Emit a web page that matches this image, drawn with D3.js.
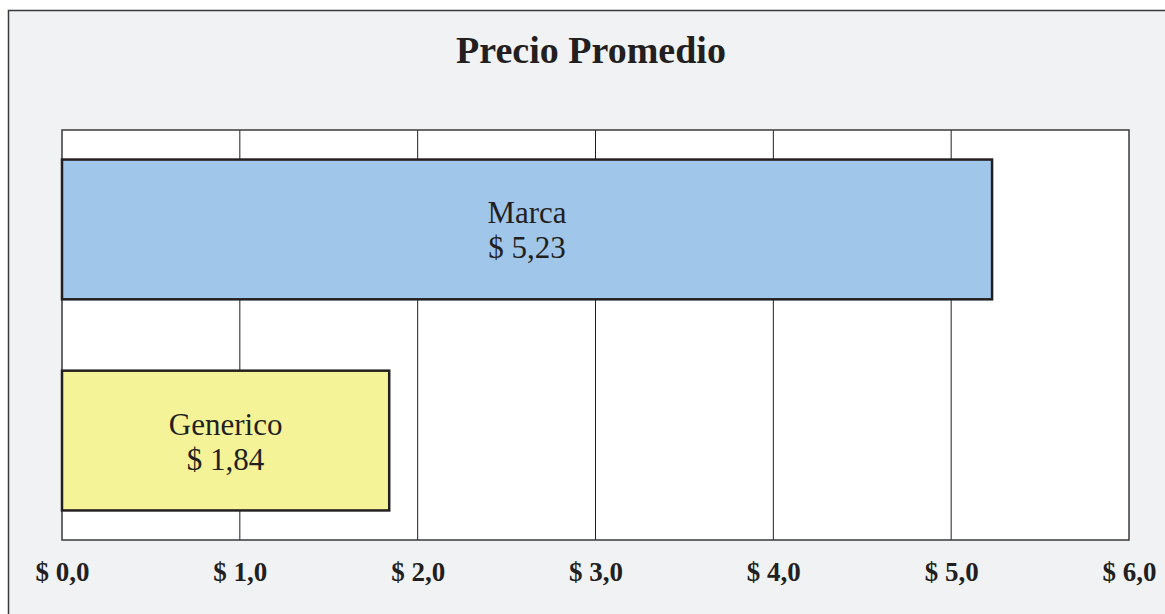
<!DOCTYPE html>
<html lang="es">
<head>
<meta charset="UTF-8">
<title>Precio Promedio</title>
<script src="https://cdn.jsdelivr.net/npm/d3@7"></script>
<style>
  body { margin: 0; background: #fff; }
  svg text { font-family: "Liberation Serif", "Times New Roman", serif; fill: #231f20; }
</style>
</head>
<body>
<svg width="1165" height="614"></svg>
<script>
// datos
const categorias = ["Marca", "Generico"];
const precios = [5.23, 1.84];
const colores = ["#a0c6e9", "#f5f397"];
const ticks = [0, 1, 2, 3, 4, 5, 6];

const width = 1165, height = 614;
const margin = { top: 130, right: 36, bottom: 74, left: 62 };

const svg = d3.select("svg");

// fondo y borde exterior
svg.append("rect")
  .attr("x", 8.5).attr("y", 10.5)
  .attr("width", width + 20).attr("height", height + 20)
  .attr("fill", "#f1f2f4")
  .attr("stroke", "#3a3a3a").attr("stroke-width", 1.5);

svg.append("text")
  .attr("x", 591).attr("y", 63)
  .attr("text-anchor", "middle")
  .attr("font-size", 38).attr("font-weight", "bold")
  .text("Precio Promedio");

const x = d3.scaleLinear()
  .domain([0, 6])
  .range([margin.left, width - margin.right]);

const y = d3.scaleBand()
  .domain(categorias)
  .range([margin.top, height - margin.bottom])
  .paddingInner(0.338)
  .paddingOuter(0.14);

// area del grafico
svg.append("rect")
  .attr("x", x(0)).attr("y", margin.top)
  .attr("width", x(6) - x(0)).attr("height", height - margin.bottom - margin.top)
  .attr("fill", "#fff");

// lineas de cuadricula
svg.append("g")
  .selectAll("line")
  .data(ticks.slice(1, -1))
  .join("line")
  .attr("x1", d => x(d)).attr("x2", d => x(d))
  .attr("y1", margin.top).attr("y2", height - margin.bottom)
  .attr("stroke", "#231f20").attr("stroke-width", 1);

svg.append("rect")
  .attr("x", x(0)).attr("y", margin.top)
  .attr("width", x(6) - x(0)).attr("height", height - margin.bottom - margin.top)
  .attr("fill", "none")
  .attr("stroke", "#3a3a3a").attr("stroke-width", 1.5);

// barras
svg.selectAll(".bar")
  .data(categorias)
  .join("rect")
  .attr("class", "bar")
  .attr("x", x(0))
  .attr("y", d => y(d))
  .attr("width", (d, i) => x(precios[i]) - x(0))
  .attr("height", y.bandwidth())
  .attr("fill", (d, i) => colores[i])
  .attr("stroke", "#231f20").attr("stroke-width", 2.5);

// etiquetas
const fmt = v => "$ " + v.toFixed(2).replace(".", ",");
const etiquetas = svg.selectAll(".lbl")
  .data(categorias)
  .join("text")
  .attr("class", "lbl")
  .attr("text-anchor", "middle")
  .attr("font-size", 31);
etiquetas.append("tspan")
  .attr("x", (d, i) => (x(0) + x(precios[i])) / 2)
  .attr("y", d => y(d) + y.bandwidth() / 2 - 6)
  .text(d => d);
etiquetas.append("tspan")
  .attr("x", (d, i) => (x(0) + x(precios[i])) / 2)
  .attr("y", d => y(d) + y.bandwidth() / 2 + 29)
  .text((d, i) => fmt(precios[i]));

// eje x
const eje = svg.append("g")
  .attr("transform", `translate(0,${height - margin.bottom})`)
  .call(d3.axisBottom(x).tickValues(ticks).tickSize(0).tickPadding(22)
    .tickFormat(d => "$ " + d.toFixed(1).replace(".", ",")));
eje.select(".domain").remove();
eje.selectAll("text")
  .attr("font-size", 27).attr("font-weight", "bold")
  .style("font-family", "'Liberation Serif', serif")
  .attr("fill", "#231f20");
</script>
</body>
</html>
